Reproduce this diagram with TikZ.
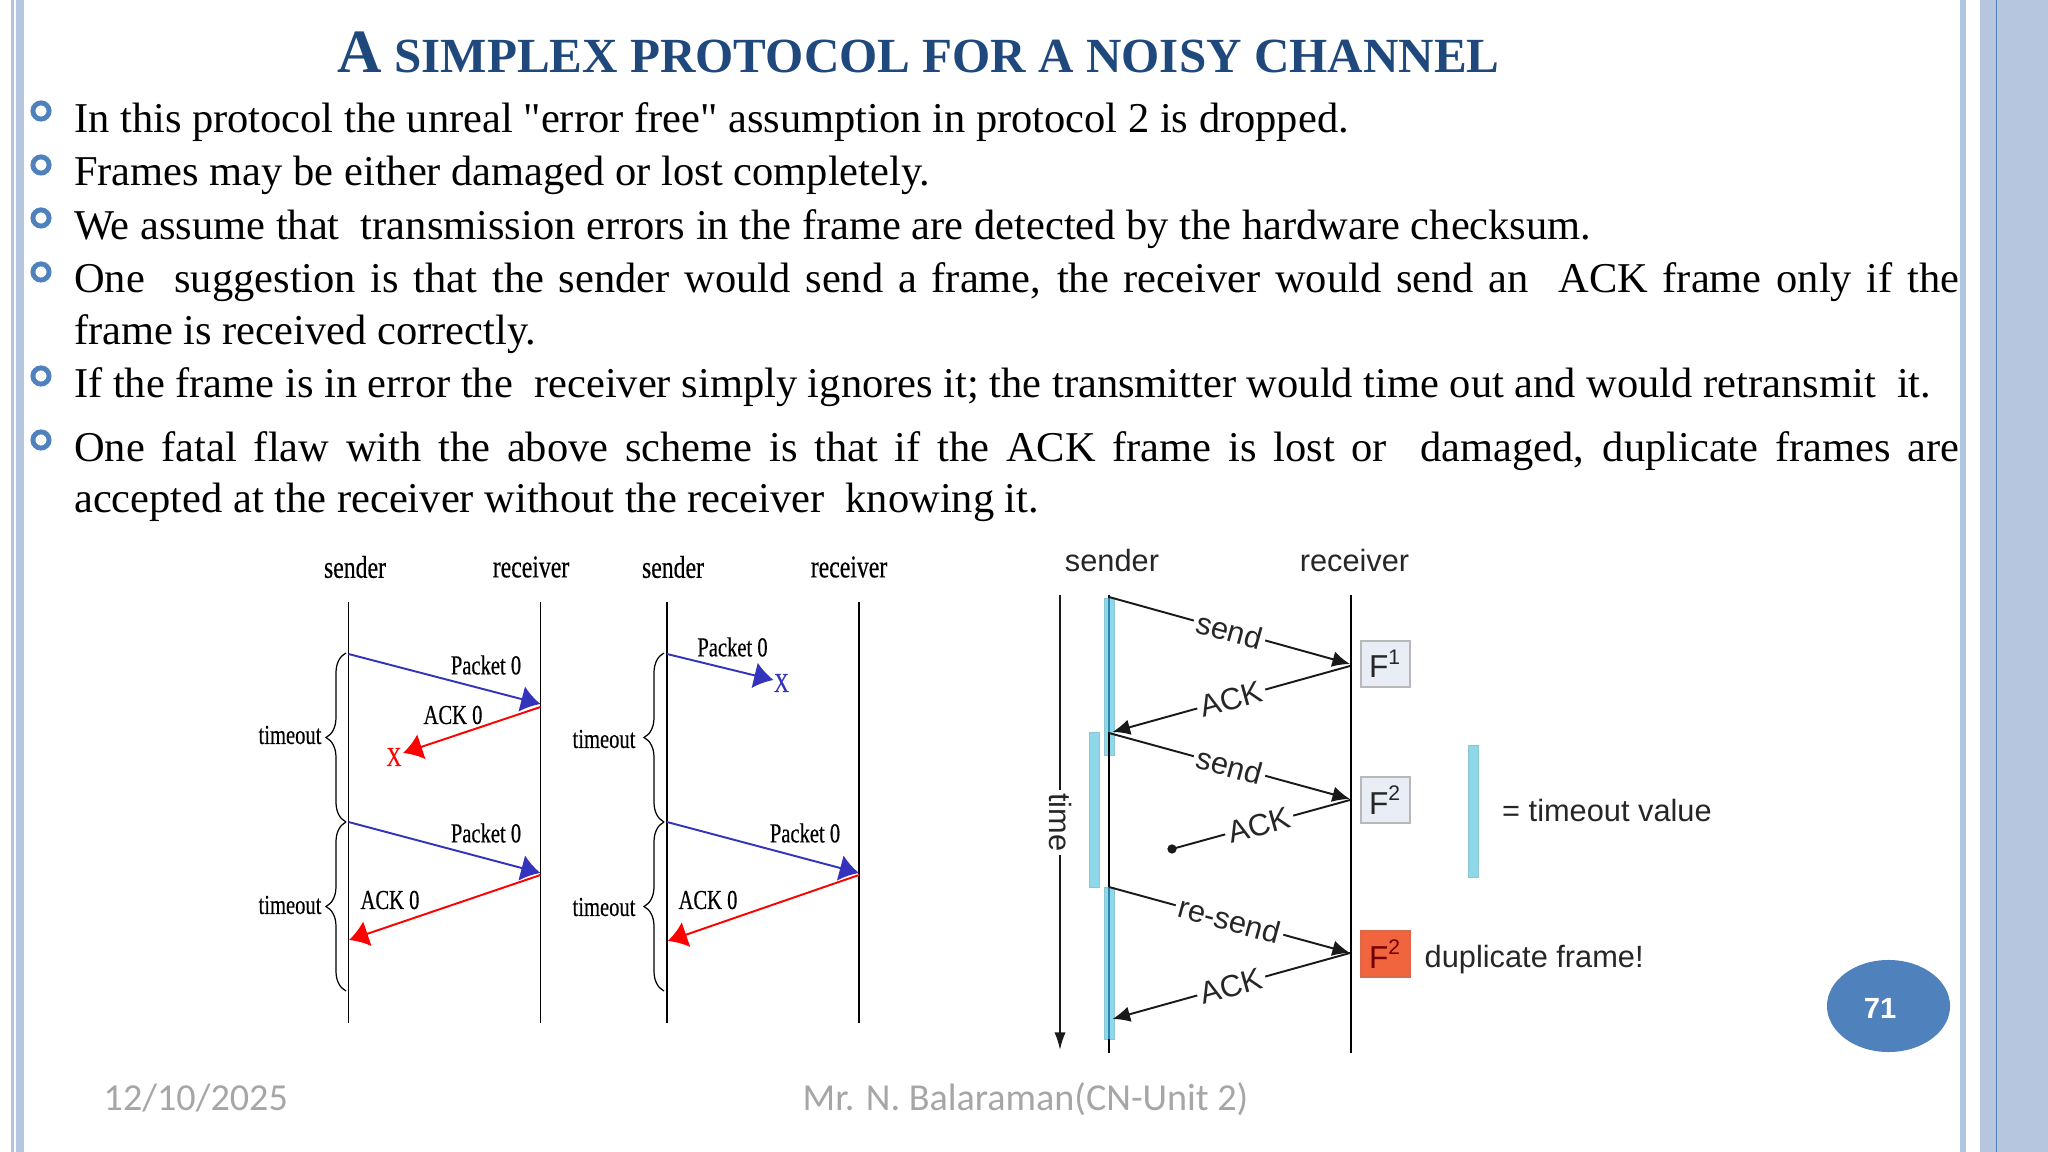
\documentclass[tikz,border=0pt]{standalone}
\usepackage{xcolor}
\usepackage{fontspec}
\usepackage{tikz}
\usetikzlibrary{arrows.meta,decorations.pathreplacing,shapes.geometric}

\setmainfont{Liberation Serif}
\setsansfont{Liberation Sans}
\newfontfamily\bodyfont{Liberation Serif}
\newfontfamily\narrowfont[FakeStretch=.75,FakeBold=.4]{Liberation Serif}
\newfontfamily\footfont{Carlito}

\definecolor{stripe}{HTML}{B7C6DF}
\definecolor{stripelight}{HTML}{AFC6E2}
\definecolor{titleblue}{HTML}{1F497D}
\definecolor{ringblue}{HTML}{4F81BD}
\definecolor{footgray}{HTML}{A6A6A6}
\definecolor{pktblue}{HTML}{3333BB}
\definecolor{barcyan}{HTML}{8FD8EA}
\definecolor{barline}{HTML}{2A84AE}
\definecolor{framefill}{HTML}{E9EDF5}
\definecolor{dupfill}{HTML}{F0653E}
\definecolor{dupline}{HTML}{D9694A}

\tikzset{
	bodyline/.style={anchor=base west, inner sep=0pt, font=\bodyfont\fontsize{12.08}{14}\selectfont},
	ringbullet/.style={circle, draw=ringblue, line width=1.4pt, minimum size=4.6pt, inner sep=0pt},
	foottext/.style={anchor=base west, inner sep=0pt, text=footgray, font=\footfont\fontsize{10.85}{12}\selectfont},
	lowres/.style={inner sep=0pt, font=\narrowfont\fontsize{7.8}{9}\selectfont},
	lowreshead/.style={inner sep=0pt, font=\narrowfont\fontsize{9}{10}\selectfont},
	sanslabel/.style={inner sep=0pt, text=black!85, font=\sffamily\fontsize{8.75}{10}\selectfont},
	msglabel/.style={sanslabel, sloped, fill=white, inner xsep=1pt, inner ysep=0pt},
	lifeline/.style={black, line width=.45pt},
	pktmsg/.style={pktblue, line width=.55pt, -{Latex[length=5.5pt,width=7.5pt]}},
	ackmsg/.style={red, line width=.55pt, -{Latex[length=5.5pt,width=7.5pt]}},
	sendmsg/.style={black!90, line width=.55pt, -{Latex[length=5pt,width=4.5pt]}},
	tobrace/.style={black, line width=.35pt, decorate, decoration={brace, mirror, amplitude=.2cm}},
	timebar/.style={fill=barcyan, draw=barcyan!80!gray, line width=.25pt},
	framebox/.style={sanslabel, font=\sffamily\fontsize{9}{11}\selectfont, minimum width=.49cm, minimum height=.46cm, draw=black!28, line width=.5pt, fill=framefill},
}

\begin{document}
\begin{tikzpicture}[x=0.01cm,y=-0.01cm]

	\useasboundingbox (0,0) rectangle (2048,1152);

	% slide stripes
	\fill [stripelight] (11,0) rectangle (13.5,1152);
	\fill [stripe] (16,0) rectangle (23.5,1152);
	\fill [stripelight] (1959.5,0) rectangle (1966,1152);
	\fill [stripe] (1980,0) rectangle (2048,1152);
	\draw [ringblue, line width=.3pt] (1996.7,0) -- (1996.7,1152);

	\node [anchor=base west, inner sep=0pt, text=titleblue, font=\bfseries] (title) at (337,73)
		{\fontsize{17.5}{20}\selectfont A\fontsize{13.96}{20}\selectfont{} SIMPLEX PROTOCOL FOR A NOISY CHANNEL};

	\foreach \y [count=\i] in {111,165,218,272,376,440} {
		\node [ringbullet] (bullet\i) at (41,\y) {};
	}

	\node [bodyline] (line1) at (73.5,133) {In this protocol the unreal "error free" assumption in protocol 2 is dropped.};
	\node [bodyline] (line2) at (73.5,186) {Frames may be either damaged or lost completely.};
	\node [bodyline] (line3) at (73.5,240) {We assume that~ transmission errors in the frame are detected by the hardware checksum.};
	\node [bodyline] (line4) at (73.5,293) {\makebox[18.84cm][s]{One~ suggestion is that the sender would send a frame, the receiver would send an~ ACK frame only if the}};
	\node [bodyline] (line5) at (73.5,345) {frame is received correctly.};
	\node [bodyline] (line6) at (73.5,398) {If the frame is in error the~ receiver simply ignores it; the transmitter would time out and would retransmit~ it.};
	\node [bodyline] (line7) at (73.5,462) {\makebox[18.84cm][s]{One fatal flaw with the above scheme is that if the ACK frame is lost or~ damaged, duplicate frames are}};
	\node [bodyline] (line8) at (73.5,513) {accepted at the receiver without the receiver~ knowing it.};

	% left pair of charts
	\node [lowreshead] (sndA) at (355,567) {sender};
	\node [lowreshead] (rcvA) at (531,567) {receiver};
	\node [lowreshead] (sndB) at (673,567) {sender};
	\node [lowreshead] (rcvB) at (849,567) {receiver};

	\foreach \n/\x in {sA/348.5, rA/540.5, sB/667, rB/859} {
		\coordinate (\n top) at (\x,602);
		\coordinate (\n end) at (\x,1023);
		\draw [lifeline] (\n top) -- (\n end);
	}

	\coordinate (a1) at (348.5,654); \coordinate (a2) at (540.5,704);
	\coordinate (a3) at (540.5,707); \coordinate (a4) at (403,753);
	\coordinate (a5) at (348.5,822); \coordinate (a6) at (540.5,873);
	\coordinate (a7) at (540.5,875); \coordinate (a8) at (349,940);
	\coordinate (a9) at (346,991);
	\coordinate (b1) at (667,654); \coordinate (b2) at (773.5,680);
	\coordinate (b5) at (667,822); \coordinate (b6) at (859,873);
	\coordinate (b7) at (859,875); \coordinate (b8) at (667.7,941);
	\coordinate (b9) at (664,991);

	\draw [pktmsg] (a1) -- (a2);
	\draw [ackmsg] (a3) -- (a4);
	\draw [pktmsg] (a5) -- (a6);
	\draw [ackmsg] (a7) -- (a8);
	\draw [pktmsg] (b1) -- (b2);
	\draw [pktmsg] (b5) -- (b6);
	\draw [ackmsg] (b7) -- (b8);

	\draw [tobrace] (346,653) -- (346,822);
	\draw [tobrace] (a5 -| a9) -- (a9);
	\draw [tobrace] (664,653) -- (664,822);
	\draw [tobrace] (b5 -| b9) -- (b9);

	\node [lowres] (pktA1) at (486,665) {Packet 0};
	\node [lowres] (ackA1) at (453,715) {ACK 0};
	\node [lowres, text=red] (lostA) at (394,757) {X};
	\node [lowres] (pktA2) at (486,833) {Packet 0};
	\node [lowres] (ackA2) at (390,900) {ACK 0};
	\node [lowres] (pktB1) at (732.5,647) {Packet 0};
	\node [lowres, text=pktblue] (lostB) at (781.5,683) {X};
	\node [lowres] (pktB2) at (805,833) {Packet 0};
	\node [lowres] (ackB2) at (708,900) {ACK 0};
	\node [lowres] (toA1) at (290,735) {timeout};
	\node [lowres] (toA2) at (290,905) {timeout};
	\node [lowres] (toB1) at (604,739) {timeout};
	\node [lowres] (toB2) at (604,907) {timeout};

	% right chart
	\node [sanslabel] (sndC) at (1112,561) {sender};
	\node [sanslabel] (rcvC) at (1354.5,561) {receiver};

	\fill [timebar] (1104.5,598) rectangle (1114,755);
	\fill [timebar] (1089,732) rectangle (1099,887);
	\fill [timebar] (1104.5,887) rectangle (1114,1039);
	\fill [timebar] (1468,745) rectangle (1478,877);

	\coordinate (sCtop) at (1109,595); \coordinate (sCend) at (1109,1053);
	\coordinate (rCtop) at (1351,595); \coordinate (rCend) at (1351,1053);
	\draw [lifeline] (sCtop) -- (sCend);
	\draw [lifeline] (rCtop) -- (rCend);
	\draw [barline, line width=.6pt] (1109,598) -- (1109,732);
	\draw [barline, line width=.6pt] (1109,887) -- (1109,1039);

	\coordinate (timeTop) at (1060,595); \coordinate (timeEnd) at (1060,1050);
	\draw [sendmsg, -{Latex[length=5pt,width=3.2pt]}] (timeTop) -- node [sanslabel, rotate=-90, fill=white, inner xsep=1pt, pos=.5] (timeLabel) {time} (timeEnd);

	\node [framebox] (frame1) at (1385.5,664) {F\textsuperscript{1}};
	\node [framebox] (frame2) at (1385.5,800) {F\textsuperscript{2}};
	\node [framebox, fill=dupfill, draw=dupline, text=red!45!black] (frame3) at (1385.5,954) {F\textsuperscript{2}};

	\coordinate (c1) at (1109,597); \coordinate (c2) at (1350,664);
	\coordinate (c3) at (1350,666); \coordinate (c4) at (1112.5,732);
	\coordinate (c5) at (1109,733); \coordinate (c6) at (1350,799);
	\coordinate (c7) at (1350,800); \coordinate (c8) at (1172,849);
	\coordinate (c9) at (1109,887); \coordinate (c10) at (1350,953);
	\coordinate (c11) at (1350,953); \coordinate (c12) at (1112.5,1019);

	\draw [sendmsg] (c1) -- node [msglabel] (send1) {send} (c2);
	\draw [sendmsg] (c3) -- node [msglabel] (ack1) {ACK} (c4);
	\draw [sendmsg] (c5) -- node [msglabel] (send2) {send} (c6);
	\draw [black!90, line width=.55pt] (c7) -- node [msglabel, pos=.51] (ack2) {ACK} (c8);
	\filldraw [black!90] (c8) circle (1.1pt);
	\draw [sendmsg] (c9) -- node [msglabel] (resend) {re-send} (c10);
	\draw [sendmsg] (c11) -- node [msglabel] (ack3) {ACK} (c12);

	\node [sanslabel, anchor=west] (legend) at (1501.5,810.5) {= timeout value};
	\node [sanslabel, anchor=west] (dupl) at (1424,959.5) {duplicate frame!};

	% page number and footer
	\node [ellipse, fill=ringblue, minimum width=1.23cm, minimum height=.92cm, inner sep=0pt] (pageNo) at (1888.5,1006) {};
	\node [inner sep=0pt, text=white, font=\sffamily\bfseries\fontsize{8.3}{10}\selectfont] (pageNum) at (1880,1008) {71};

	\node [foottext] (date) at (103,1110) {12/10/2025};
	\node [foottext] (author) at (802,1110) {Mr. N. Balaraman(CN-Unit 2)};

\end{tikzpicture}
\end{document}
